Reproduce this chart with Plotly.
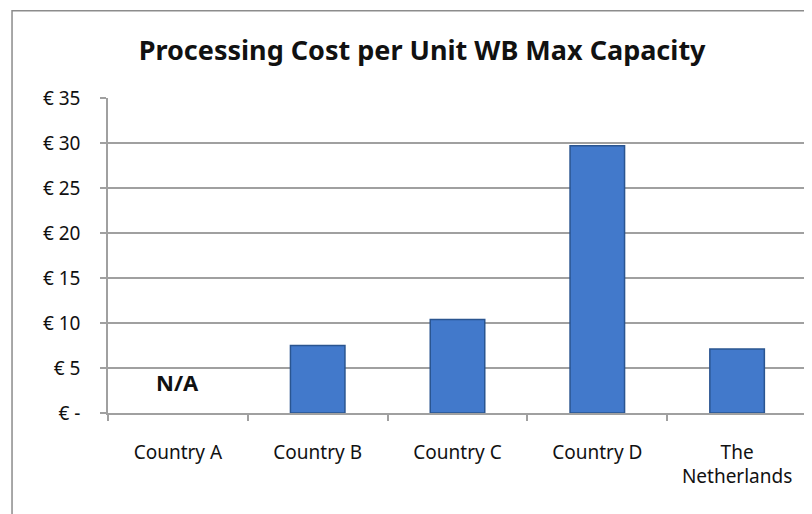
import plotly.graph_objects as go

categories = ["Country A", "Country B", "Country C", "Country D", "The<br>Netherlands"]
values = [None, 7.5, 10.4, 29.7, 7.1]
tick_vals = [0, 5, 10, 15, 20, 25, 30, 35]
tick_text = ["€ -", "€ 5", "€ 10", "€ 15", "€ 20", "€ 25", "€ 30", "€ 35"]
na_label = "N/A"
na_y = 3.4

fig = go.Figure()
fig.add_trace(go.Bar(
    x=categories, y=values,
    marker=dict(color="#4279CB", line=dict(color="#2A5590", width=1.5)),
    width=0.39,
))

fig.add_annotation(x=categories[0], y=na_y, text="<b>" + na_label + "</b>",
                   showarrow=False, xref="x", yref="y",
                   font=dict(family="Noto Sans", size=22, color="#111111"))

fig.add_shape(type="rect", xref="paper", yref="paper",
              x0=-0.1373, x1=1.03, y0=-0.4, y1=1.2773,
              line=dict(color="#8c8c8c", width=1.5), fillcolor="rgba(0,0,0,0)", layer="below")

fig.update_layout(
    width=812, height=514,
    margin=dict(l=100, r=13, t=89.5, b=109, autoexpand=False),
    paper_bgcolor="white", plot_bgcolor="white",
    showlegend=False,
    title=dict(text="<b>Processing Cost per Unit WB Max Capacity</b>",
               x=0.51, xanchor="center", y=0.918, yanchor="middle",
               font=dict(family="Noto Sans", size=27, color="#111111")),
    font=dict(family="Noto Sans", size=19, color="#222222"),
)
fig.update_yaxes(range=[0, 35], tickvals=tick_vals, ticktext=tick_text,
                 showgrid=True, gridcolor="#a0a0a0", gridwidth=1.5,
                 showline=True, linecolor="#a0a0a0", linewidth=1.5,
                 ticks="outside", ticklen=6, tickcolor="#a0a0a0", tickwidth=1.5,
                 ticklabelstandoff=16, zeroline=False,
                 tickfont=dict(family="Noto Sans", size=19, color="#111111"))
fig.update_xaxes(showline=True, linecolor="#a0a0a0", linewidth=1.5,
                 ticks="outside", ticklen=6, tickcolor="#a0a0a0", tickwidth=1.5,
                 tickson="boundaries", ticklabelstandoff=21,
                 tickfont=dict(family="Noto Sans", size=19, color="#111111"))

fig.write_html("out.html")
